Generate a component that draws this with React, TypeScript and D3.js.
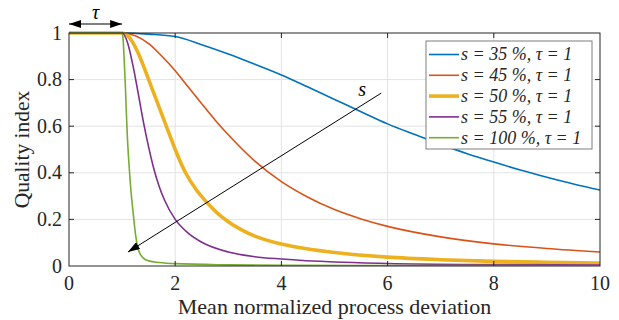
import React, { useEffect, useRef } from 'react';
import * as d3 from 'd3';

// values, [deviation, quality]
const s35: [number, number][] = [
  [0, 1], [1, 1], [1.5, 0.995], [2, 0.985], [2.5, 0.95], [3, 0.91], [3.5, 0.866], [4, 0.82],
  [4.5, 0.768], [5, 0.715], [5.5, 0.662], [6, 0.61], [6.5, 0.565], [7, 0.522], [7.5, 0.482],
  [8, 0.446], [8.5, 0.412], [9, 0.381], [9.5, 0.352], [10, 0.326],
];
const s45: [number, number][] = [
  [0, 1], [1, 1], [1.25, 0.988], [1.5, 0.954], [1.75, 0.9], [2, 0.838], [2.25, 0.767],
  [2.5, 0.696], [2.75, 0.627], [3, 0.563], [3.5, 0.45], [4, 0.362], [4.5, 0.295], [5, 0.242],
  [5.5, 0.202], [6, 0.17], [7, 0.125], [8, 0.095], [9, 0.075], [10, 0.06],
];
const s50: [number, number][] = [
  [0, 1], [1, 1], [1.1, 0.99], [1.2, 0.96], [1.3, 0.915], [1.4, 0.86], [1.5, 0.8], [1.6, 0.74],
  [1.7, 0.68], [1.8, 0.62], [1.9, 0.56], [2, 0.5], [2.2, 0.398], [2.4, 0.326], [2.6, 0.272],
  [2.8, 0.226], [3, 0.19], [3.25, 0.155], [3.5, 0.128], [4, 0.094], [4.5, 0.073], [5, 0.058],
  [6, 0.038], [7, 0.027], [8, 0.02], [9, 0.016], [10, 0.013],
];
const s55: [number, number][] = [
  [0, 1], [1, 1], [1.1, 0.96], [1.2, 0.865], [1.3, 0.745], [1.4, 0.62], [1.5, 0.51],
  [1.6, 0.415], [1.7, 0.34], [1.8, 0.282], [2, 0.2], [2.25, 0.14], [2.5, 0.102], [3, 0.06],
  [3.5, 0.04], [4, 0.03], [5, 0.017], [6, 0.011], [8, 0.006], [10, 0.004],
];
const s100: [number, number][] = [
  [0, 1], [1, 1], [1.02, 0.97], [1.04, 0.88], [1.06, 0.78], [1.08, 0.66], [1.1, 0.55],
  [1.12, 0.47], [1.15, 0.37], [1.18, 0.29], [1.21, 0.225], [1.25, 0.14], [1.3, 0.075],
  [1.35, 0.048], [1.4, 0.034], [1.5, 0.022], [1.7, 0.015], [2, 0.01], [3, 0.005], [4, 0.003],
  [6, 0.002], [10, 0.001],
];

const seriesData = [s35, s45, s50, s55, s100];
const seriesLabels = ['35', '45', '50', '55', '100'];
const seriesColors = ['#0072BD', '#D95319', '#EDB120', '#7E2F8E', '#77AC30'];
const seriesWidths = [1.6, 1.6, 3.6, 1.6, 1.6];

const xTicks = [0, 2, 4, 6, 8, 10];
const yTicks = [0, 0.2, 0.4, 0.6, 0.8, 1];

// annotation arrow "s", from [x, y] to [x, y]
const sArrow: [number, number][] = [[5.88, 0.742], [1.11, 0.06]];

const serif = 'Liberation Serif';

export default function App() {
  const svgRef = useRef<SVGSVGElement>(null);

  useEffect(() => {
    if (!svgRef.current) return;
    const svg = d3.select(svgRef.current);
    svg.selectAll('*').remove();

    const margin = { top: 33, right: 19, bottom: 54, left: 69 };
    const W = 619, H = 320;
    const width = W - margin.left - margin.right;
    const height = H - margin.top - margin.bottom;

    const defs = svg.append('defs');
    defs.append('marker')
      .attr('id', 'head')
      .attr('viewBox', '0 0 12 8')
      .attr('refX', 12)
      .attr('refY', 4)
      .attr('markerWidth', 12)
      .attr('markerHeight', 8)
      .attr('markerUnits', 'userSpaceOnUse')
      .attr('orient', 'auto-start-reverse')
      .append('path')
      .attr('d', 'M0,0 L12,4 L0,8 Z')
      .attr('fill', '#000');
    defs.append('clipPath').attr('id', 'plotclip')
      .append('rect').attr('x', 0).attr('y', -3).attr('width', width).attr('height', height + 3);

    const g = svg.append('g').attr('transform', `translate(${margin.left},${margin.top})`);

    const x = d3.scaleLinear().domain([0, 10]).range([0, width]);
    const y = d3.scaleLinear().domain([0, 1]).range([height, 0]);

    g.append('rect').attr('width', width).attr('height', height).attr('fill', '#fff');

    // grid
    g.selectAll('.vgrid').data(xTicks.slice(1, -1)).enter().append('line')
      .attr('x1', d => x(d)).attr('x2', d => x(d)).attr('y1', 0).attr('y2', height)
      .attr('stroke', '#e3e3e3').attr('stroke-width', 1);
    g.selectAll('.hgrid').data(yTicks.slice(1, -1)).enter().append('line')
      .attr('y1', d => y(d)).attr('y2', d => y(d)).attr('x1', 0).attr('x2', width)
      .attr('stroke', '#e3e3e3').attr('stroke-width', 1);

    // curves
    const line = d3.line<[number, number]>()
      .x(d => x(d[0]))
      .y(d => y(d[1]))
      .curve(d3.curveMonotoneX);

    g.append('g').attr('clip-path', 'url(#plotclip)')
      .selectAll('path').data(seriesData).enter().append('path')
      .attr('d', d => line(d))
      .attr('fill', 'none')
      .attr('stroke', (d, i) => seriesColors[i])
      .attr('stroke-width', (d, i) => seriesWidths[i])
      .attr('stroke-linejoin', 'round');

    // box + inward ticks
    g.append('rect').attr('width', width).attr('height', height)
      .attr('fill', 'none').attr('stroke', '#262626').attr('stroke-width', 1);
    const tl = 5;
    xTicks.slice(1, -1).forEach(t => {
      g.append('line').attr('x1', x(t)).attr('x2', x(t)).attr('y1', height).attr('y2', height - tl)
        .attr('stroke', '#262626');
      g.append('line').attr('x1', x(t)).attr('x2', x(t)).attr('y1', 0).attr('y2', tl)
        .attr('stroke', '#262626');
    });
    yTicks.slice(1, -1).forEach(t => {
      g.append('line').attr('y1', y(t)).attr('y2', y(t)).attr('x1', 0).attr('x2', tl)
        .attr('stroke', '#262626');
      g.append('line').attr('y1', y(t)).attr('y2', y(t)).attr('x1', width).attr('x2', width - tl)
        .attr('stroke', '#262626');
    });

    // tick labels
    g.selectAll('.xlab').data(xTicks).enter().append('text')
      .attr('x', d => x(d)).attr('y', height + 24)
      .attr('text-anchor', 'middle')
      .style('font-family', serif).attr('font-size', 20).attr('fill', '#262626')
      .text(d => String(d));
    g.selectAll('.ylab').data(yTicks).enter().append('text')
      .attr('x', -7).attr('y', d => y(d)).attr('dy', '0.33em')
      .attr('text-anchor', 'end')
      .style('font-family', serif).attr('font-size', 20).attr('fill', '#262626')
      .text(d => String(d));

    // axis titles
    g.append('text')
      .attr('x', width / 2).attr('y', height + 48)
      .attr('text-anchor', 'middle')
      .style('font-family', serif).attr('font-size', 22).attr('fill', '#262626')
      .text('Mean normalized process deviation');
    g.append('text')
      .attr('transform', `translate(${-40},${height / 2}) rotate(-90)`)
      .attr('text-anchor', 'middle')
      .style('font-family', serif).attr('font-size', 21.5).attr('fill', '#262626')
      .text('Quality index');

    // tau annotation
    g.append('line')
      .attr('x1', x(0)).attr('x2', x(1)).attr('y1', -9).attr('y2', -9)
      .attr('stroke', '#000').attr('stroke-width', 1.2)
      .attr('marker-start', 'url(#head)').attr('marker-end', 'url(#head)');
    g.append('text')
      .attr('x', x(0.5)).attr('y', -14)
      .attr('text-anchor', 'middle')
      .style('font-family', serif).attr('font-style', 'italic').attr('font-size', 20)
      .text('τ');

    // s arrow
    g.append('line')
      .attr('x1', x(sArrow[0][0])).attr('y1', y(sArrow[0][1]))
      .attr('x2', x(sArrow[1][0])).attr('y2', y(sArrow[1][1]))
      .attr('stroke', '#000').attr('stroke-width', 1)
      .attr('marker-end', 'url(#head)');
    g.append('text')
      .attr('x', x(sArrow[0][0]) - 19).attr('y', y(sArrow[0][1]) + 3)
      .attr('text-anchor', 'middle')
      .style('font-family', serif).attr('font-style', 'italic').attr('font-size', 20)
      .text('s');

    // legend
    const lg = g.append('g').attr('transform', `translate(${426 - margin.left},${41 - margin.top})`);
    lg.append('rect').attr('width', 166).attr('height', 108)
      .attr('fill', '#fff').attr('stroke', '#7f7f7f').attr('stroke-width', 1);
    const rows = lg.selectAll('.row').data(seriesLabels).enter().append('g')
      .attr('transform', (d, i) => `translate(0,${13.5 + i * 20.8})`);
    rows.append('line')
      .attr('x1', 3).attr('x2', 33).attr('y1', 0).attr('y2', 0)
      .attr('stroke', (d, i) => seriesColors[i])
      .attr('stroke-width', (d, i) => seriesWidths[i]);
    rows.append('text')
      .attr('x', 35).attr('y', 0).attr('dy', '0.33em')
      .style('font-family', serif).attr('font-style', 'italic').attr('font-size', 18).attr('fill', '#262626')
      .text(d => `s = ${d} %, τ = 1`);

  }, []);

  return (
    <svg
      ref={svgRef}
      width={619}
      height={320}
      style={{ position: 'absolute', left: 0, top: 0, background: '#fff' }}
    />
  );
}
